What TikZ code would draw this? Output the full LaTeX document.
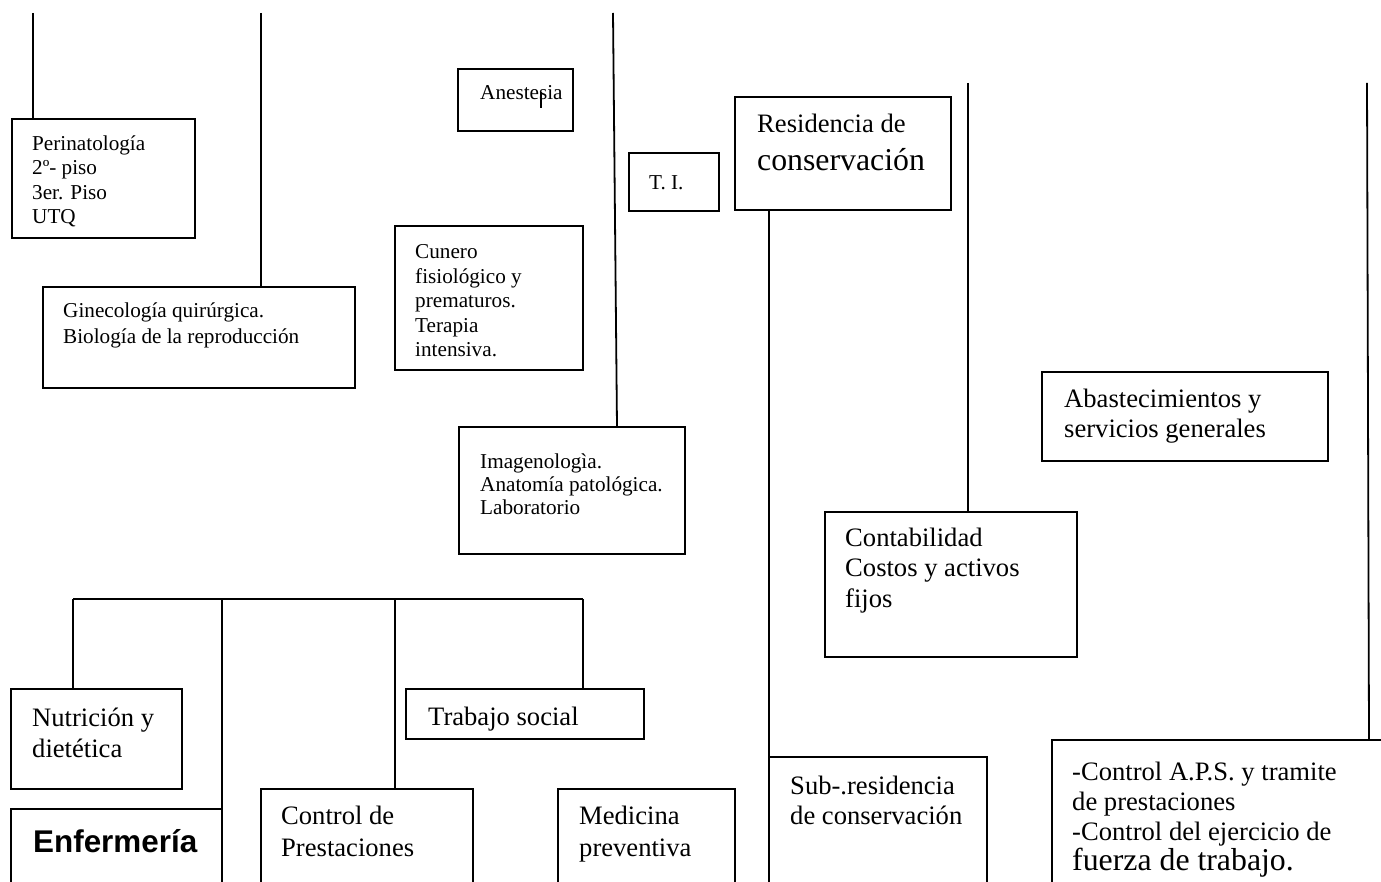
\documentclass[tikz,border=0pt]{standalone}
\usepackage{fontspec}
\setmainfont{Liberation Serif}
\newfontfamily\arialfont{Liberation Sans}
\usepackage{tikz}

\newcommand{\letrachica}{\fontsize{21.2}{24.5}\selectfont}
\newcommand{\letragrande}{\fontsize{26.6}{30.5}\selectfont}
\newcommand{\letramayor}{\fontsize{31.8}{36}\selectfont}

\begin{document}
\begin{tikzpicture}[x=1pt,y=-1pt,
    caja/.style={draw, line width=1.8pt, anchor=north west, inner sep=0pt, outer sep=0pt},
    chica/.style={anchor=north west, align=left, inner sep=0pt, font=\letrachica},
    grande/.style={anchor=north west, align=left, inner sep=0pt, font=\letragrande},
    linea/.style={line width=1.8pt}]
        % \draw[help lines,step=100] (0,0) grid (1381,882);
        \useasboundingbox (0,0) rectangle (1381,882);
        \fill[white] (0,0) rectangle (1381,882);
        \clip (0,0) rectangle (1381,882);

        % cajas de la izquierda
        \node[caja, minimum width=183, minimum height=119] (peri) at (12,119) {};
        \node[caja, minimum width=312, minimum height=101] (gine) at (43,287) {};
        \node[caja, minimum width=115, minimum height=62] (anes) at (458,69) {};
        \node[caja, minimum width=90, minimum height=58] (ti) at (629,153) {};
        \node[caja, minimum width=188, minimum height=144] (cune) at (395,226) {};
        \node[caja, minimum width=226, minimum height=127] (imag) at (459,427) {};

        \node[chica] (peri-txt) at (32,135.5) {Perinatología\\2º- piso\\3er. Piso\\UTQ};
        \node[chica] (gine-txt) at (63,302.5) {Ginecología quirúrgica.\\[1.5pt]Biología de la reproducción};
        \node[chica] (anes-txt) at (480,85.7) {Anestesia};
        \node[chica] (ti-txt) at (649,175) {T. I.};
        \node[chica] (cune-txt) at (415,244.7) {Cunero\\fisiológico y\\prematuros.\\Terapia\\intensiva.};
        \node[chica] (imag-txt) at (480,453.5) {Imagenologìa.\\[-1.5pt]Anatomía patológica.\\[-1.5pt]Laboratorio};
        \draw[line width=1.3pt] (541,92) -- (541,108);

        % cajas de la derecha
        \node[caja, minimum width=216, minimum height=113] (resi) at (735,97) {};
        \node[caja, minimum width=286, minimum height=89] (abas) at (1042,372) {};
        \node[caja, minimum width=252, minimum height=145] (cont) at (825,512) {};
        \node[caja, minimum width=218, minimum height=160] (subr) at (769,757) {};
        \node[caja, minimum width=400, minimum height=200] (aps) at (1052,740) {};

        \node[grande] (resi-txt) at (757,114) {Residencia de\\[7.5pt]{\letramayor conservación}};
        \node[grande] (abas-txt) at (1064,388.8) {Abastecimientos y\\servicios generales};
        \node[grande] (cont-txt) at (845,527.8) {Contabilidad\\Costos y activos\\fijos};
        \node[grande] (subr-txt) at (790,775.5) {Sub-.residencia\\de conservación};
        \node[grande, font=\fontsize{26.6}{30}\selectfont] (aps-txt) at (1072,761.8)
            {-Control A.P.S. y tramite\\de prestaciones\\-Control del ejercicio de\\{\letramayor fuerza de trabajo.}};

        % cajas de abajo
        \node[caja, minimum width=171, minimum height=100] (nutr) at (11,689) {};
        \node[caja, minimum width=211, minimum height=120] (enfe) at (11,809) {};
        \node[caja, minimum width=212, minimum height=120] (cprest) at (261,789) {};
        \node[caja, minimum width=238, minimum height=50] (trab) at (406,689) {};
        \node[caja, minimum width=177, minimum height=120] (medi) at (558,789) {};

        \node[grande] (nutr-txt) at (32,707.8) {Nutrición y\\dietética};
        \node[anchor=north west, inner sep=0pt, font=\arialfont\bfseries\fontsize{31.4}{36}\selectfont] (enfe-txt) at (33,829.5) {Enfermería};
        \node[grande] (cprest-txt) at (281,806) {Control de\\[1.5pt]Prestaciones};
        \node[grande] (trab-txt) at (428,707) {Trabajo social};
        \node[grande] (medi-txt) at (579,806) {Medicina\\[1.5pt]preventiva};

        % lineas que bajan desde arriba
        \coordinate (peri-top) at (33,13);
        \coordinate (gine-top) at (261,13);
        \coordinate (imag-top) at (613,13);
        \coordinate (cont-top) at (968,83);
        \coordinate (aps-top) at (1367,83);
        \draw[linea] (peri-top) -- (peri-top |- peri.north);
        \draw[linea] (gine-top) -- (gine-top |- gine.north);
        \draw[linea] (imag-top) -- ([xshift=158pt]imag.north west);
        \draw[linea] (cont-top) -- (cont-top |- cont.north);
        \draw[linea] (aps-top) -- ([xshift=317pt]aps.north west);

        % residencia a sub-residencia
        \draw[linea] (resi.south -| subr.west) -- (subr.north west);

        % barra de abajo
        \coordinate (bus-a) at (73,599);
        \coordinate (bus-b) at (583,599);
        \draw[linea] (bus-a) -- (bus-b);
        \draw[linea] (bus-a) -- (bus-a |- nutr.north);
        \draw[linea] (bus-a -| enfe.east) -- (enfe.north east);
        \draw[linea] ([xshift=134pt]cprest.north west |- bus-a) -- ([xshift=134pt]cprest.north west);
        \draw[linea] (bus-b) -- (bus-b |- trab.north);

\end{tikzpicture}
\end{document}
